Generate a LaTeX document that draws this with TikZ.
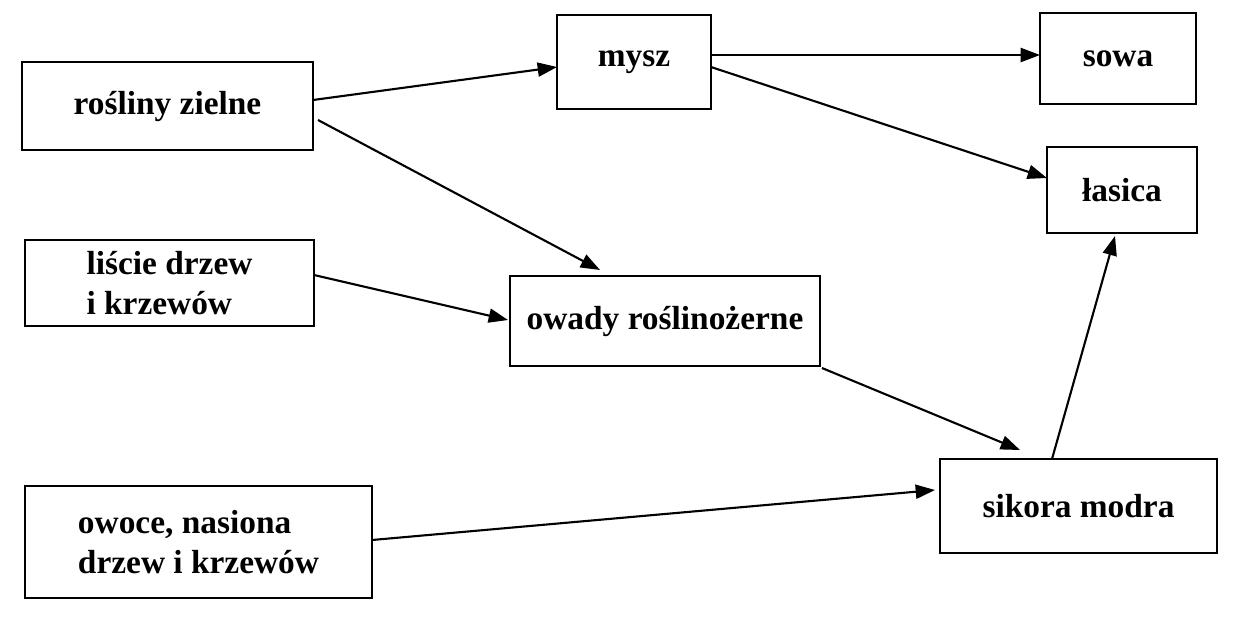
\documentclass[tikz,border=0pt]{standalone}
\usepackage{fontspec}
\setmainfont{Liberation Serif}
\usetikzlibrary{arrows.meta}
\begin{document}
\begin{tikzpicture}[x=0.02cm,y=-0.02cm,
  box/.style={draw,line width=1.2pt,inner sep=0pt,font=\fontsize{19}{23}\selectfont\bfseries,align=left},
  arr/.style={line width=1.2pt,-{Triangle[length=11pt,width=8pt]}}]
\useasboundingbox (0,0) rectangle (1238,620);
\node[box,minimum width=291*0.02cm,minimum height=88*0.02cm] (ros) at (167.5,106) {rośliny zielne};
\node[box,minimum width=154*0.02cm,minimum height=94*0.02cm] (mysz) at (634,62) {mysz};
\node[box,minimum width=156*0.02cm,minimum height=91*0.02cm] (sowa) at (1118,58.5) {sowa};
\node[box,minimum width=150*0.02cm,minimum height=86*0.02cm] (las) at (1122,190) {łasica};
\node[box,minimum width=289*0.02cm,minimum height=86*0.02cm] (lis) at (169.5,283) {liście drzew\\i krzewów};
\node[box,minimum width=310*0.02cm,minimum height=90*0.02cm] (owady) at (665,321) {owady roślinożerne};
\node[box,minimum width=347*0.02cm,minimum height=112*0.02cm] (owoce) at (198.5,542) {owoce, nasiona\\drzew i krzewów};
\node[box,minimum width=277*0.02cm,minimum height=94*0.02cm] (sik) at (1078.5,506) {sikora modra};
\coordinate (r1) at (313,100); \coordinate (m1) at (557,67);
\coordinate (r2) at (318,120); \coordinate (o1) at (600,270);
\coordinate (l1) at (314,275); \coordinate (o2) at (508,320);
\coordinate (m2) at (711,55); \coordinate (s1) at (1040,55);
\coordinate (m3) at (711,67); \coordinate (a1) at (1047,178);
\coordinate (o3) at (822,368); \coordinate (k1) at (1020,450);
\coordinate (w1) at (372,540); \coordinate (k2) at (935,490);
\coordinate (k3) at (1052,459); \coordinate (a2) at (1115,236);
\draw[arr] (r1) -- (m1);
\draw[arr] (r2) -- (o1);
\draw[arr] (l1) -- (o2);
\draw[arr] (m2) -- (s1);
\draw[arr] (m3) -- (a1);
\draw[arr] (o3) -- (k1);
\draw[arr] (w1) -- (k2);
\draw[arr] (k3) -- (a2);
\end{tikzpicture}
\end{document}
